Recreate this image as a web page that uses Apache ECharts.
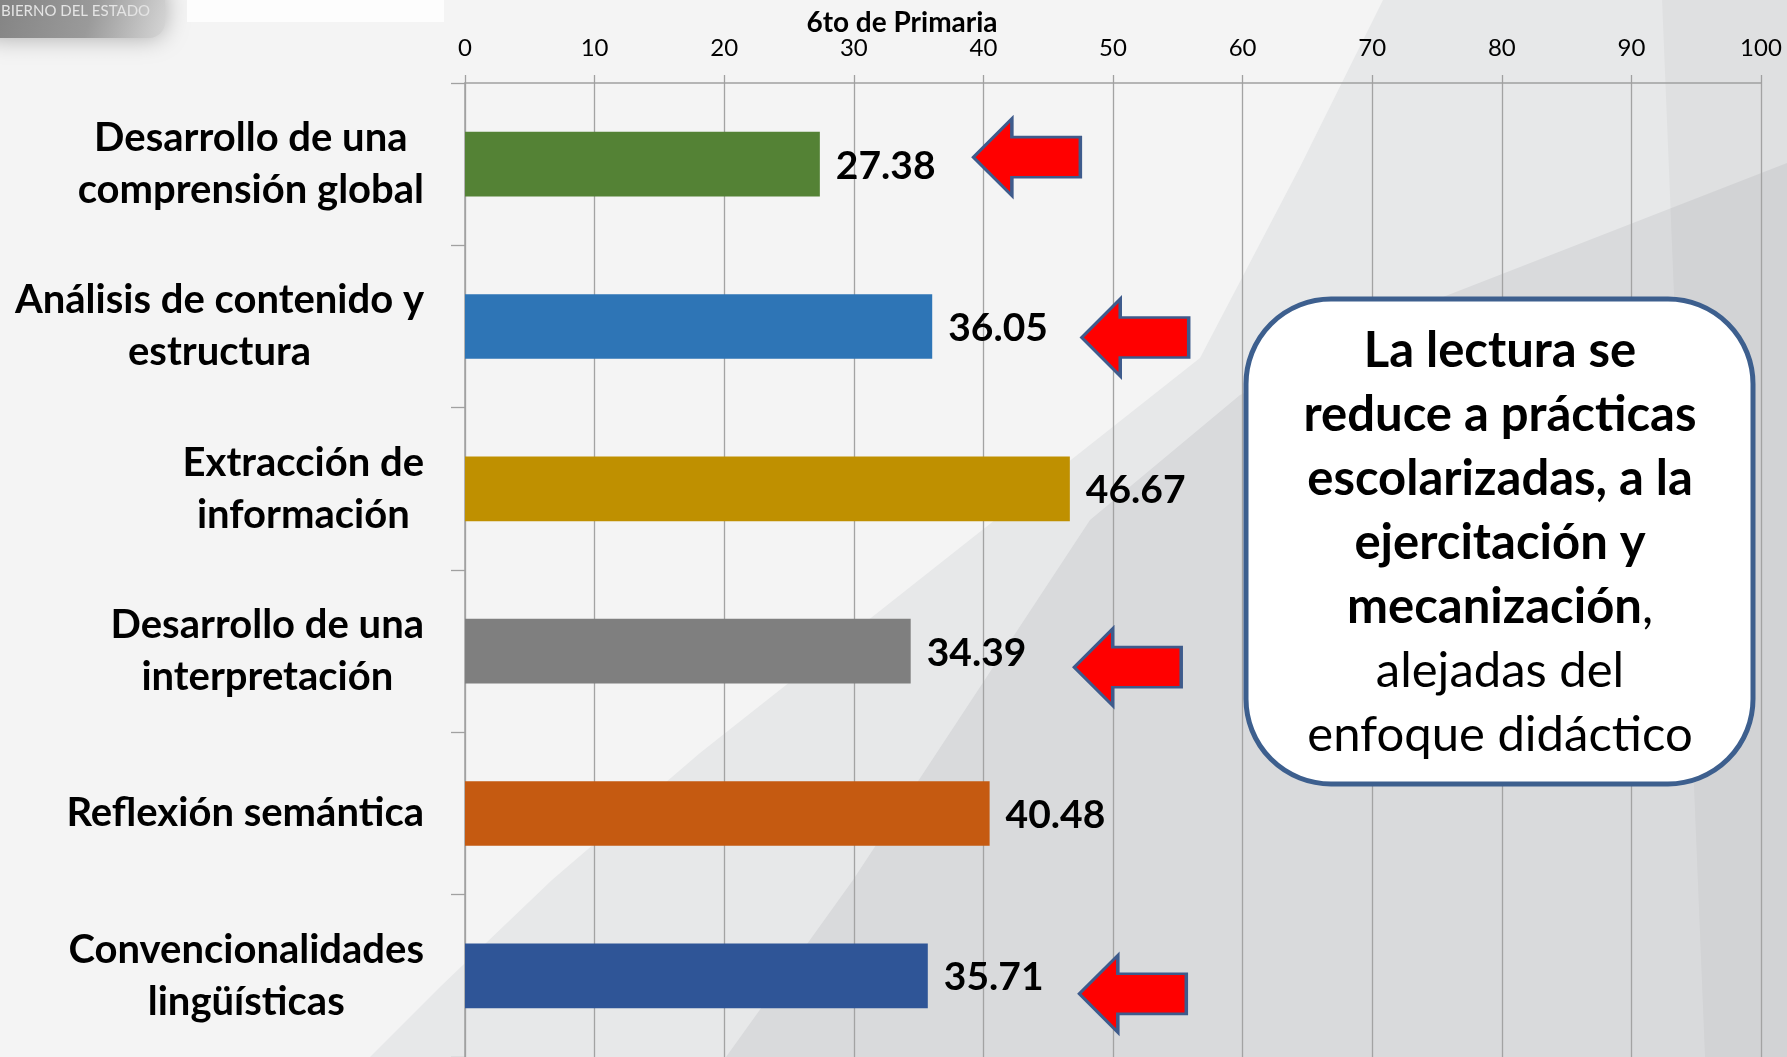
<!DOCTYPE html>
<html><head><meta charset="utf-8">
<script src="https://cdn.jsdelivr.net/npm/echarts@6/dist/echarts.min.js"></script>
<style>html,body{margin:0;padding:0;background:#f4f4f4;overflow:hidden}#c{width:1787px;height:1057px}</style>
</head><body><div id="c"></div>
<script>
// ---- data ----
const categories = [
  'Desarrollo de una\ncomprensión global',
  'Análisis de contenido y\nestructura',
  'Extracción de\ninformación',
  'Desarrollo de una\ninterpretación',
  'Reflexión semántica',
  'Convencionalidades\nlingüísticas'
];
const values = [27.38, 36.05, 46.67, 34.39, 40.48, 35.71];
const barColors = ['#548235', '#2e75b6', '#bf9000', '#7f7f7f', '#c55a11', '#2f5597'];
const arrowFlags = [true, true, false, true, false, true];
const axisMin = 0, axisMax = 100, axisStep = 10;
const chartTitle = '6to de Primaria';
const noteLines = [
  ['La lectura se', 'b'],
  ['reduce a prácticas', 'b'],
  ['escolarizadas, a la', 'b'],
  ['ejercitación y', 'b'],
  ['mecanización', 'b', ','],
  ['alejadas del', 'r'],
  ['enfoque didáctico', 'r']
];
const logoText = 'BIERNO DEL ESTADO';

// ---- styles ----
const FONT = 'Lato, "Open Sans", sans-serif';
const arrowStyle = [[207, -7], [203, 11], [0, 0], [217, 16], [0, 0], [205, 18]];
const arrowPath = 'path://M0,50L36,0L36,24L100,24L100,76L36,76L36,100Z';

const chart = echarts.init(document.getElementById('c'), null, {renderer: 'canvas'});

const arrowData = [];
values.forEach((v, i) => {
  if (arrowFlags[i]) arrowData.push({value: [v, i], symbolOffset: arrowStyle[i]});
});

const noteText = noteLines.map(l => '{' + l[1] + '|' + l[0] + '}' + (l[2] ? '{r|' + l[2] + '}' : '')).join('\n');

const option = {
  backgroundColor: '#f4f4f4',
  animation: false,
  title: {
    text: chartTitle, left: 897, top: 4, textAlign: 'center',
    textStyle: {fontFamily: FONT, fontSize: 28, fontWeight: 'bold', color: '#000'}
  },
  grid: {left: 465, right: 26, top: 83, bottom: -2, containLabel: false},
  xAxis: {
    type: 'value', position: 'top', min: axisMin, max: axisMax, interval: axisStep,
    axisLine: {show: true, lineStyle: {color: '#a0a0a0', width: 1.5}},
    axisTick: {show: true, length: 8, lineStyle: {color: '#a0a0a0', width: 1.3}},
    splitLine: {show: true, lineStyle: {color: '#a3a3a3', width: 1.3}},
    axisLabel: {margin: 23, fontFamily: FONT, fontSize: 24, color: '#000'}
  },
  yAxis: {
    type: 'category', inverse: true, data: categories,
    axisLine: {show: true, lineStyle: {color: '#a0a0a0', width: 1.5}},
    axisTick: {show: true, length: 14, lineStyle: {color: '#a0a0a0', width: 1.3}},
    axisLabel: {
      margin: 41, align: 'right',
      formatter: s => s.split('\n').map(t => '{c|' + t + '}').join('\n'),
      rich: {c: {align: 'center', fontFamily: FONT, fontSize: 40, fontWeight: 'bold', color: '#000', lineHeight: 52}}
    }
  },
  series: [
    {
      type: 'bar', barWidth: '39.8%',
      data: values.map((v, i) => ({value: v, itemStyle: {color: barColors[i]}})),
      label: {
        show: true, position: 'right', distance: 16, offset: [0, 2],
        formatter: p => p.value.toFixed(2),
        fontFamily: FONT, fontSize: 39, fontWeight: 'bold', color: '#000'
      },
      z: 3
    },
    {
      type: 'scatter', data: arrowData, symbol: arrowPath, symbolSize: [107, 77],
      itemStyle: {color: '#ff0000', borderColor: '#3e5b8c', borderWidth: 3, opacity: 1},
      z: 5, clip: false, silent: true
    }
  ],
  graphic: [
    {type: 'polygon', z: -20, silent: true,
      shape: {points: [[1383,0],[1787,0],[1787,1057],[370,1057],[440,987],[552,880],[700,753],[1200,358],[1300,167]]},
      style: {fill: '#e7e8e9'}},
    {type: 'polygon', z: -19, silent: true,
      shape: {points: [[1787,163],[1443,297],[1240,395],[1090,520],[853,880],[726,1057],[1787,1057]]},
      style: {fill: '#d9dadc'}},
    {type: 'polygon', z: -18, silent: true,
      shape: {points: [[1662,0],[1787,0],[1787,1057],[1705,1057]]},
      style: {fill: 'rgba(0,0,0,0.03)'}},
    {type: 'rect', z: -10, silent: true, shape: {x: -20, y: -20, width: 185, height: 58, r: 16},
      style: {
        fill: new echarts.graphic.LinearGradient(0, 0, 1, 1, [
          {offset: 0, color: '#7e7e7e'}, {offset: 0.6, color: '#9a9a9a'}, {offset: 1, color: '#d6d6d6'}
        ]),
        shadowBlur: 24, shadowColor: 'rgba(120,120,120,0.6)'
      }},
    {type: 'text', z: -9, silent: true, x: 1, y: 4,
      style: {text: logoText, fontFamily: FONT, fontSize: 15, fill: '#e4e4e4'}},
    {type: 'rect', z: -10, silent: true, shape: {x: 187, y: -5, width: 257, height: 27},
      style: {fill: '#fdfdfd'}},
    {type: 'rect', z: 100, silent: true,
      shape: {x: 1246, y: 299, width: 507, height: 485, r: 85},
      style: {fill: '#ffffff', stroke: '#3d5f8e', lineWidth: 5}},
    {type: 'text', z: 101, silent: true, x: 1500, y: 543,
      style: {
        text: noteText, align: 'center', verticalAlign: 'middle',
        rich: {
          b: {fontFamily: FONT, fontSize: 49, fontWeight: 'bold', fill: '#000', lineHeight: 64, align: 'center'},
          r: {fontFamily: FONT, fontSize: 49, fontWeight: 'normal', fill: '#000', lineHeight: 64, align: 'center'}
        }
      }}
  ]
};
chart.setOption(option);
</script></body></html>
